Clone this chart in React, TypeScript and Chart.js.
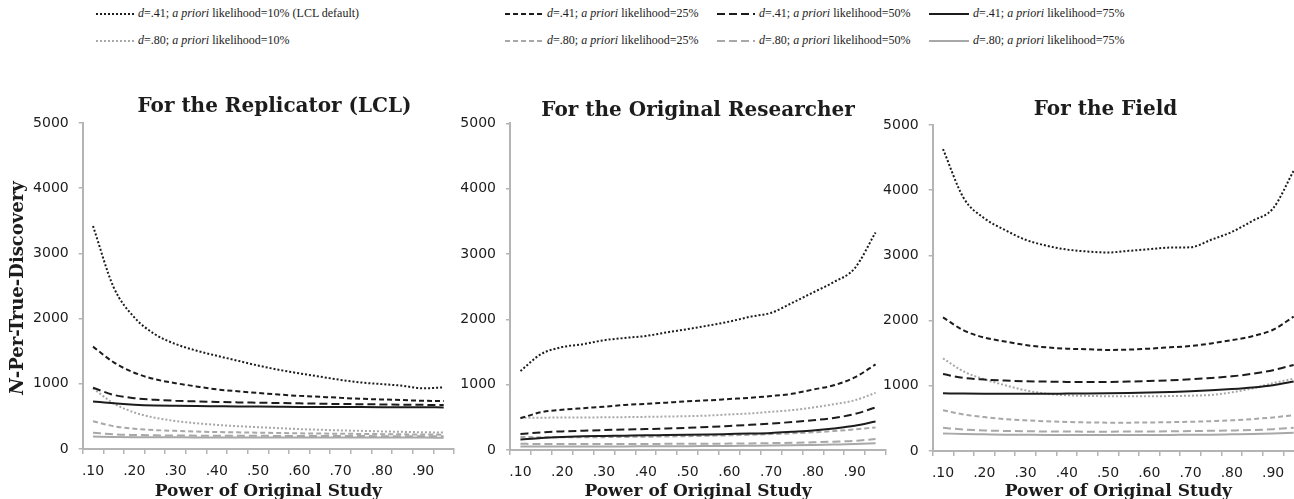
import React, { useEffect, useRef } from 'react';
import { Chart, registerables } from 'chart.js';

Chart.register(...registerables);

// ---------- data ----------
const powerLabels = ['.10', '.15', '.20', '.25', '.30', '.35', '.40', '.45', '.50', '.55', '.60', '.65', '.70', '.75', '.80', '.85', '.90', '.95'];
const yMin = 0;
const yMax = 5000;
const yStep = 1000;

const effectSizes = ['.41', '.80'];
const priors = ['10%', '25%', '50%', '75%'];

// For the Replicator (LCL)
const repD41P10 = [3420, 2480, 2020, 1760, 1610, 1510, 1430, 1355, 1280, 1215, 1160, 1110, 1060, 1020, 995, 970, 930, 945];
const repD41P25 = [1570, 1330, 1170, 1070, 1010, 960, 915, 885, 860, 835, 815, 800, 785, 770, 760, 750, 740, 735];
const repD41P50 = [940, 830, 780, 755, 740, 730, 722, 715, 710, 705, 700, 695, 690, 687, 684, 680, 677, 675];
const repD41P75 = [730, 700, 680, 668, 662, 658, 655, 652, 650, 648, 646, 645, 644, 643, 642, 641, 640, 638];
const repD80P10 = [930, 700, 560, 480, 430, 395, 370, 350, 335, 320, 305, 295, 285, 278, 270, 263, 257, 252];
const repD80P25 = [425, 350, 310, 290, 278, 268, 260, 255, 250, 245, 240, 237, 234, 231, 228, 225, 222, 220];
const repD80P50 = [250, 225, 215, 210, 207, 205, 204, 203, 202, 201, 200, 199, 198, 198, 197, 196, 196, 195];
const repD80P75 = [190, 185, 182, 180, 179, 178, 178, 177, 177, 176, 176, 176, 175, 175, 175, 175, 175, 174];

// For the Original Researcher
const oriD41P10 = [1210, 1470, 1575, 1620, 1680, 1715, 1745, 1800, 1850, 1905, 1965, 2040, 2100, 2250, 2410, 2570, 2780, 3330];
const oriD41P25 = [485, 580, 615, 640, 663, 690, 705, 725, 745, 760, 780, 800, 826, 860, 925, 990, 1110, 1310];
const oriD41P50 = [245, 270, 285, 295, 305, 313, 320, 330, 340, 352, 368, 385, 405, 428, 455, 490, 550, 650];
const oriD41P75 = [160, 185, 200, 210, 215, 220, 225, 228, 232, 238, 245, 252, 262, 280, 300, 330, 370, 435];
const oriD80P10 = [495, 495, 497, 498, 500, 503, 507, 512, 518, 527, 545, 560, 585, 610, 650, 700, 760, 875];
const oriD80P25 = [200, 195, 195, 195, 197, 200, 203, 207, 212, 218, 225, 233, 243, 255, 270, 290, 315, 345];
const oriD80P50 = [95, 92, 92, 92, 92, 93, 93, 94, 95, 96, 98, 101, 105, 110, 118, 127, 140, 168];
const oriD80P75 = [55, 54, 54, 54, 55, 55, 56, 57, 58, 60, 62, 65, 68, 72, 77, 83, 90, 102];

// For the Field
const fldD41P10 = [4630, 3880, 3570, 3390, 3240, 3150, 3090, 3060, 3045, 3070, 3095, 3120, 3125, 3240, 3360, 3530, 3720, 4300];
const fldD41P25 = [2050, 1850, 1740, 1680, 1625, 1590, 1570, 1560, 1550, 1555, 1570, 1590, 1610, 1650, 1700, 1760, 1860, 2060];
const fldD41P50 = [1180, 1120, 1095, 1080, 1070, 1065, 1060, 1060, 1060, 1065, 1075, 1085, 1100, 1120, 1145, 1185, 1240, 1320];
const fldD41P75 = [885, 880, 878, 878, 878, 878, 880, 882, 885, 890, 897, 905, 915, 930, 950, 975, 1010, 1065];
const fldD80P10 = [1420, 1220, 1100, 1010, 930, 880, 855, 845, 840, 838, 840, 842, 848, 860, 900, 960, 1040, 1110];
const fldD80P25 = [625, 560, 520, 490, 470, 455, 445, 438, 435, 435, 438, 442, 448, 458, 470, 490, 515, 550];
const fldD80P50 = [355, 330, 315, 308, 303, 300, 298, 297, 297, 298, 300, 302, 305, 310, 315, 322, 335, 355];
const fldD80P75 = [270, 260, 255, 250, 248, 246, 245, 245, 245, 245, 246, 247, 248, 250, 255, 260, 268, 280];

// ---------- styles ----------
const BLACK = '#1c1c1c';
const GRAY = '#a8a8a8';
const AXIS = '#b4b4b4';
const TEXT = '#1c1c1c';
const dashByPrior = [[2, 2], [5, 3], [8, 4], []];
const colorByEffect = [BLACK, GRAY];

const CANVAS_TOP = 60;
const CANVAS_H = 450;
const TITLE_SIZE = 20;

const panels = [
  {
    title: 'For the Replicator (LCL)',
    series: [repD41P10, repD41P25, repD41P50, repD41P75, repD80P10, repD80P25, repD80P50, repD80P75],
    left: 0, width: 549, yAxisWidth: 82.7, padRight: 95, titleY: 106.5, areaTop: 123, areaBottom: 449, yTitle: true,
  },
  {
    title: 'For the Original Researcher',
    series: [oriD41P10, oriD41P25, oriD41P50, oriD41P75, oriD80P10, oriD80P25, oriD80P50, oriD80P75],
    left: 450, width: 496, yAxisWidth: 60, padRight: 60, titleY: 111, areaTop: 123.3, areaBottom: 450, yTitle: false,
  },
  {
    title: 'For the Field',
    series: [fldD41P10, fldD41P25, fldD41P50, fldD41P75, fldD80P10, fldD80P25, fldD80P50, fldD80P75],
    left: 870, width: 471, yAxisWidth: 62.7, padRight: 37, titleY: 109.5, areaTop: 125, areaBottom: 451, yTitle: false,
  },
];

const yTitlePlugin = {
  id: 'yTitle',
  afterDraw(chart: any, _args: any, opts: any) {
    if (!opts || !opts.display) return;
    const { ctx, chartArea } = chart;
    ctx.save();
    const cy = (chartArea.top + chartArea.bottom) / 2 + 2;
    ctx.translate(opts.x, cy);
    ctx.rotate(-Math.PI / 2);
    ctx.textBaseline = 'middle';
    ctx.textAlign = 'left';
    const italicFont = 'italic bold 18px "DejaVu Serif"';
    const boldFont = 'bold 18px "DejaVu Serif"';
    ctx.font = italicFont;
    const w1 = ctx.measureText('N').width;
    ctx.font = boldFont;
    const rest = '-Per-True-Discovery';
    const w2 = ctx.measureText(rest).width;
    const x0 = -(w1 + w2) / 2;
    ctx.fillStyle = TEXT;
    ctx.font = italicFont;
    ctx.fillText('N', x0, 0);
    ctx.font = boldFont;
    ctx.fillText(rest, x0 + w1, 0);
    ctx.restore();
  },
};

function Panel({ p }: { p: any }) {
  const ref = useRef<HTMLCanvasElement | null>(null);
  useEffect(() => {
    if (!ref.current) return;
    const lh = TITLE_SIZE * 1.2;
    const padTop = p.titleY - CANVAS_TOP - lh / 2;
    const padBottom = p.areaTop - CANVAS_TOP - padTop - lh;
    const datasets: any[] = [];
    effectSizes.forEach((d, ei) => {
      priors.forEach((pr, pi) => {
        datasets.push({
          label: `d=${d}; a priori likelihood=${pr}`,
          data: p.series[ei * 4 + pi],
          borderColor: colorByEffect[ei],
          backgroundColor: colorByEffect[ei],
          borderDash: dashByPrior[pi],
          borderWidth: 2,
          borderCapStyle: 'butt',
          pointRadius: 0,
          pointHoverRadius: 0,
          fill: false,
          cubicInterpolationMode: 'monotone',
          yAxisID: 'y',
        });
      });
    });
    const chart = new Chart(ref.current, {
      type: 'line',
      data: { labels: powerLabels, datasets },
      plugins: [yTitlePlugin as any],
      options: {
        animation: false,
        responsive: false,
        maintainAspectRatio: false,
        events: [],
        layout: { padding: 0 },
        plugins: {
          legend: { display: false },
          tooltip: { enabled: false },
          title: {
            display: true,
            text: p.title,
            color: TEXT,
            font: { family: 'DejaVu Serif', weight: 'bold', size: TITLE_SIZE, lineHeight: 1.2 },
            padding: { top: padTop, bottom: padBottom },
          },
          yTitle: { display: p.yTitle, x: 18 },
        } as any,
        scales: {
          x: {
            type: 'category',
            offset: true,
            grid: { display: true, drawOnChartArea: false, drawTicks: true, tickLength: 5, offset: true, color: AXIS, lineWidth: 1.5 },
            border: { display: true, color: AXIS, width: 2 },
            ticks: {
              autoSkip: false,
              maxRotation: 0,
              minRotation: 0,
              padding: 9,
              color: TEXT,
              font: { family: 'DejaVu Sans', size: 14 },
              callback: (_v: any, i: number) => (i % 2 === 0 ? powerLabels[i] : ''),
            },
            title: {
              display: true,
              text: 'Power of Original Study',
              color: TEXT,
              font: { family: 'DejaVu Serif', weight: 'bold', size: 17, lineHeight: 1.2 },
              padding: { top: 0, bottom: 8 },
            },
            afterFit: (s: any) => { s.height = CANVAS_TOP + CANVAS_H - p.areaBottom; },
          },
          y: {
            position: 'left',
            min: yMin,
            max: yMax,
            grid: { display: true, drawOnChartArea: false, drawTicks: true, tickLength: 4, color: AXIS, lineWidth: 1.5 },
            border: { display: true, color: AXIS, width: 2 },
            ticks: {
              stepSize: yStep,
              padding: 10,
              color: TEXT,
              font: { family: 'DejaVu Sans', size: 14 },
              callback: (v: any) => String(v),
            },
            afterFit: (s: any) => { s.width = p.yAxisWidth; },
          },
          // invisible spacer on the right so the chart area ends where the reference's does
          ySpacer: {
            position: 'right',
            display: true,
            min: yMin,
            max: yMax,
            grid: { display: false, drawTicks: false },
            border: { display: false },
            ticks: { display: false },
            afterFit: (s: any) => { s.width = p.padRight; },
          },
        },
      } as any,
    });
    return () => chart.destroy();
  }, [p]);
  return (
    <canvas
      ref={ref}
      width={p.width}
      height={CANVAS_H}
      style={{ position: 'absolute', left: p.left, top: CANVAS_TOP, width: p.width, height: CANVAS_H }}
    />
  );
}

const legendCols = [
  { sampleX: 96, textX: 138 },
  { sampleX: 505, textX: 547 },
  { sampleX: 717, textX: 759 },
  { sampleX: 929, textX: 973 },
];
const legendRowsY = [14, 41];

function LegendItem({ ei, pi }: { ei: number; pi: number }) {
  const col = legendCols[pi];
  const y = legendRowsY[ei];
  const sampleW = col.textX - col.sampleX - 4;
  const dash = dashByPrior[pi];
  return (
    <>
      <svg
        width={sampleW}
        height={4}
        style={{ position: 'absolute', left: col.sampleX, top: y - 2 }}
      >
        <line
          x1={0}
          y1={2}
          x2={sampleW}
          y2={2}
          stroke={colorByEffect[ei]}
          strokeWidth={2}
          strokeDasharray={dash.length ? dash.join(' ') : undefined}
        />
      </svg>
      <div
        style={{
          position: 'absolute',
          left: col.textX,
          top: y - 9,
          height: 16,
          lineHeight: '16px',
          fontFamily: '"Liberation Serif", "Times New Roman", serif',
          fontSize: 12,
          color: TEXT,
          whiteSpace: 'nowrap',
        }}
      >
        <i>d</i>={effectSizes[ei]}; <i>a priori</i> likelihood={priors[pi]}
        {ei === 0 && pi === 0 ? ' (LCL default)' : ''}
      </div>
    </>
  );
}

export default function App() {
  return (
    <div
      style={{
        position: 'fixed',
        left: 0,
        top: 0,
        width: 1294,
        height: 499,
        overflow: 'hidden',
        background: '#ffffff',
      }}
    >
      {effectSizes.map((_d, ei) => priors.map((_p, pi) => <LegendItem key={`${ei}-${pi}`} ei={ei} pi={pi} />))}
      {panels.map((p, i) => (
        <Panel key={i} p={p} />
      ))}
    </div>
  );
}
